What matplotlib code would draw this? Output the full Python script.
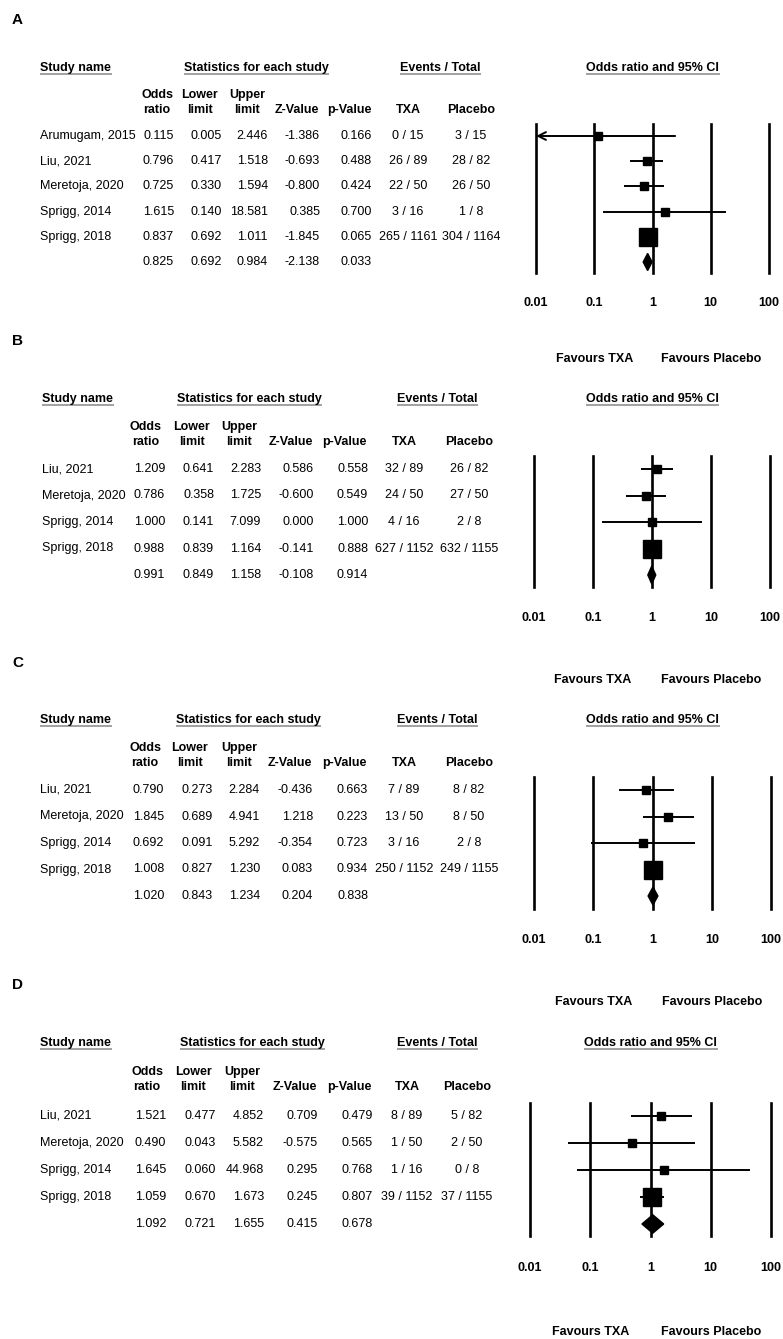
import numpy as np
import matplotlib
matplotlib.use('Agg')
import matplotlib.pyplot as plt
import matplotlib.transforms as mtransforms

plt.rcParams['font.family'] = ['Liberation Sans', 'DejaVu Sans']

W, H = 783, 1339

# ---- data: panel A
a_names = ['Arumugam, 2015', 'Liu, 2021', 'Meretoja, 2020', 'Sprigg, 2014', 'Sprigg, 2018']
a_or = [0.115, 0.796, 0.725, 1.615, 0.837]
a_lo = [0.005, 0.417, 0.330, 0.140, 0.692]
a_up = [2.446, 1.518, 1.594, 18.581, 1.011]
a_z = [-1.386, -0.693, -0.800, 0.385, -1.845]
a_p = [0.166, 0.488, 0.424, 0.700, 0.065]
a_txa_ev = [0, 26, 22, 3, 265]
a_txa_n = [15, 89, 50, 16, 1161]
a_pla_ev = [3, 28, 26, 1, 304]
a_pla_n = [15, 82, 50, 8, 1164]
a_pooled = [0.825, 0.692, 0.984, -2.138, 0.033]  # or, lower, upper, z, p

# ---- data: panel B
b_names = ['Liu, 2021', 'Meretoja, 2020', 'Sprigg, 2014', 'Sprigg, 2018']
b_or = [1.209, 0.786, 1.000, 0.988]
b_lo = [0.641, 0.358, 0.141, 0.839]
b_up = [2.283, 1.725, 7.099, 1.164]
b_z = [0.586, -0.600, 0.000, -0.141]
b_p = [0.558, 0.549, 1.000, 0.888]
b_txa_ev = [32, 24, 4, 627]
b_txa_n = [89, 50, 16, 1152]
b_pla_ev = [26, 27, 2, 632]
b_pla_n = [82, 50, 8, 1155]
b_pooled = [0.991, 0.849, 1.158, -0.108, 0.914]

# ---- data: panel C
c_names = ['Liu, 2021', 'Meretoja, 2020', 'Sprigg, 2014', 'Sprigg, 2018']
c_or = [0.790, 1.845, 0.692, 1.008]
c_lo = [0.273, 0.689, 0.091, 0.827]
c_up = [2.284, 4.941, 5.292, 1.230]
c_z = [-0.436, 1.218, -0.354, 0.083]
c_p = [0.663, 0.223, 0.723, 0.934]
c_txa_ev = [7, 13, 3, 250]
c_txa_n = [89, 50, 16, 1152]
c_pla_ev = [8, 8, 2, 249]
c_pla_n = [82, 50, 8, 1155]
c_pooled = [1.020, 0.843, 1.234, 0.204, 0.838]

# ---- data: panel D
d_names = ['Liu, 2021', 'Meretoja, 2020', 'Sprigg, 2014', 'Sprigg, 2018']
d_or = [1.521, 0.490, 1.645, 1.059]
d_lo = [0.477, 0.043, 0.060, 0.670]
d_up = [4.852, 5.582, 44.968, 1.673]
d_z = [0.709, -0.575, 0.295, 0.245]
d_p = [0.479, 0.565, 0.768, 0.807]
d_txa_ev = [8, 1, 1, 39]
d_txa_n = [89, 50, 16, 1152]
d_pla_ev = [5, 2, 0, 37]
d_pla_n = [82, 50, 8, 1155]
d_pooled = [1.092, 0.721, 1.655, 0.415, 0.678]

tick_vals = [0.01, 0.1, 1, 10, 100]
tick_labels = ['0.01', '0.1', '1', '10', '100']

# ---- layout (pixels)
cols_a = dict(name=40, or_r=174, lo_r=222, up_r=268, z_r=320, p_r=372, txa=408, pla=471,
              h_or=157, h_lo=200, h_up=247, h_z=297, h_p=349, stat=256, events=440)
cols_b = dict(name=42, or_r=165, lo_r=214, up_r=261, z_r=314, p_r=368, txa=404, pla=469,
              h_or=146, h_lo=192, h_up=239, h_z=291, h_p=344, stat=249, events=437)
cols_c = dict(name=40, or_r=164, lo_r=213, up_r=260, z_r=313, p_r=368, txa=404, pla=469,
              h_or=145, h_lo=190, h_up=239, h_z=290, h_p=344, stat=248, events=437)
cols_d = dict(name=40, or_r=166, lo_r=216, up_r=264, z_r=318, p_r=373, txa=407, pla=467,
              h_or=147, h_lo=193, h_up=242, h_z=295, h_p=349, stat=252, events=437)

panels = [
    dict(label='A', names=a_names, orr=a_or, lo=a_lo, up=a_up, z=a_z, p=a_p,
         te=a_txa_ev, tn=a_txa_n, pe=a_pla_ev, pn=a_pla_n, pooled=a_pooled,
         label_y=20, head_y=68, sub_y=(95, 110), row0=136, step=25.2,
         top=124, bot=273, tick_y=303, fav_y=359, fx0=536, fx1=769, cols=cols_a),
    dict(label='B', names=b_names, orr=b_or, lo=b_lo, up=b_up, z=b_z, p=b_p,
         te=b_txa_ev, tn=b_txa_n, pe=b_pla_ev, pn=b_pla_n, pooled=b_pooled,
         label_y=341, head_y=399, sub_y=(427, 442), row0=469, step=26.5,
         top=456, bot=587, tick_y=618, fav_y=680, fx0=534, fx1=770, cols=cols_b),
    dict(label='C', names=c_names, orr=c_or, lo=c_lo, up=c_up, z=c_z, p=c_p,
         te=c_txa_ev, tn=c_txa_n, pe=c_pla_ev, pn=c_pla_n, pooled=c_pooled,
         label_y=663, head_y=720, sub_y=(748, 763), row0=790, step=26.5,
         top=777, bot=909, tick_y=940, fav_y=1002, fx0=534, fx1=771, cols=cols_c),
    dict(label='D', names=d_names, orr=d_or, lo=d_lo, up=d_up, z=d_z, p=d_p,
         te=d_txa_ev, tn=d_txa_n, pe=d_pla_ev, pn=d_pla_n, pooled=d_pooled,
         label_y=985, head_y=1043, sub_y=(1072, 1087), row0=1116, step=27,
         top=1103, bot=1236, tick_y=1268, fav_y=1332, fx0=530, fx1=771, cols=cols_d),
]

fig = plt.figure(figsize=(W / 100, H / 100), dpi=100)
fig.patch.set_facecolor('white')
bg = fig.add_axes([0, 0, 1, 1])
bg.set_xlim(0, W)
bg.set_ylim(H, 0)
bg.axis('off')

FS = 9
headers = []

for pn in panels:
    c = pn['cols']
    bg.text(12, pn['label_y'], pn['label'], fontsize=11, fontweight='bold', ha='left', va='center')

    # header row
    headers.append(bg.text(c['name'], pn['head_y'], 'Study name', fontsize=FS, fontweight='bold',
                           ha='left', va='center'))
    headers.append(bg.text(c['stat'], pn['head_y'], 'Statistics for each study', fontsize=FS,
                           fontweight='bold', ha='center', va='center'))
    headers.append(bg.text(c['events'], pn['head_y'], 'Events / Total', fontsize=FS,
                           fontweight='bold', ha='center', va='center'))

    s1, s2 = pn['sub_y']
    for key, top_txt, bot_txt in [('h_or', 'Odds', 'ratio'), ('h_lo', 'Lower', 'limit'),
                                  ('h_up', 'Upper', 'limit')]:
        bg.text(c[key], s1, top_txt, fontsize=FS, fontweight='bold', ha='center', va='center')
        bg.text(c[key], s2, bot_txt, fontsize=FS, fontweight='bold', ha='center', va='center')
    bg.text(c['h_z'], s2, 'Z-Value', fontsize=FS, fontweight='bold', ha='center', va='center')
    bg.text(c['h_p'], s2, 'p-Value', fontsize=FS, fontweight='bold', ha='center', va='center')
    bg.text(c['txa'], s2, 'TXA', fontsize=FS, fontweight='bold', ha='center', va='center')
    bg.text(c['pla'], s2, 'Placebo', fontsize=FS, fontweight='bold', ha='center', va='center')

    # study rows
    n = len(pn['names'])
    for i in range(n):
        y = pn['row0'] + pn['step'] * i
        bg.text(c['name'], y, pn['names'][i], fontsize=FS, ha='left', va='center')
        for key, val in [('or_r', pn['orr'][i]), ('lo_r', pn['lo'][i]), ('up_r', pn['up'][i]),
                         ('z_r', pn['z'][i]), ('p_r', pn['p'][i])]:
            bg.text(c[key], y, f'{val:.3f}', fontsize=FS, ha='right', va='center')
        bg.text(c['txa'], y, f"{pn['te'][i]} / {pn['tn'][i]}", fontsize=FS, ha='center', va='center')
        bg.text(c['pla'], y, f"{pn['pe'][i]} / {pn['pn'][i]}", fontsize=FS, ha='center', va='center')
    y = pn['row0'] + pn['step'] * n
    for key, val in zip(['or_r', 'lo_r', 'up_r', 'z_r', 'p_r'], pn['pooled']):
        bg.text(c[key], y, f'{val:.3f}', fontsize=FS, ha='right', va='center')

    # forest plot axes
    ax = fig.add_axes([pn['fx0'] / W, 1 - pn['bot'] / H,
                       (pn['fx1'] - pn['fx0']) / W, (pn['bot'] - pn['top']) / H])
    ax.set_xscale('log')
    ax.set_xlim(0.01, 100)
    ax.set_ylim((pn['bot'] - pn['row0']) / pn['step'], (pn['top'] - pn['row0']) / pn['step'])
    ax.axis('off')
    for v in tick_vals:
        ax.axvline(v, color='black', lw=1.9, clip_on=False, zorder=1)

    orr = np.array(pn['orr'])
    lo = np.array(pn['lo'])
    up = np.array(pn['up'])
    se = (np.log(up) - np.log(lo)) / (2 * 1.96)
    w = 1 / se ** 2
    side = np.clip(18 * np.sqrt(w / w.max()), 7.5, 18)
    for i in range(n):
        if lo[i] < 0.01:
            ax.annotate('', xy=(0.01, i), xytext=(up[i], i),
                        arrowprops=dict(arrowstyle='->', color='black', lw=1.4,
                                        mutation_scale=14, shrinkA=0, shrinkB=0), zorder=2)
        else:
            ax.hlines(i, lo[i], up[i], color='black', lw=1.4, zorder=2)
        ax.plot(orr[i], i, marker='s', ms=side[i] * 0.72, color='black', zorder=3, clip_on=False)

    por, plo, pup = pn['pooled'][:3]
    hh = 0.34
    ax.fill([plo, por, pup, por], [n, n - hh, n, n + hh], color='black', zorder=3)

    blend = mtransforms.blended_transform_factory(ax.transData, bg.transData)
    for v, lab in zip(tick_vals, tick_labels):
        bg.text(v, pn['tick_y'], lab, transform=blend, fontsize=FS, fontweight='bold',
                ha='center', va='center')
    bg.text(0.1, pn['fav_y'], 'Favours TXA', transform=blend, fontsize=FS, fontweight='bold',
            ha='center', va='center')
    bg.text(10, pn['fav_y'], 'Favours Placebo', transform=blend, fontsize=FS, fontweight='bold',
            ha='center', va='center')
    headers.append(bg.text(1, pn['head_y'], 'Odds ratio and 95% CI', transform=blend, fontsize=FS,
                           fontweight='bold', ha='center', va='center'))

# grey underlines below the header titles
fig.canvas.draw()
renderer = fig.canvas.get_renderer()
for t in headers:
    bb = t.get_window_extent(renderer)
    yy = H - bb.y0 - 0.5
    bg.plot([bb.x0, bb.x1 + 1], [yy, yy], color='#9a9a9a', lw=1.3, solid_capstyle='butt')

fig.savefig('out.png', dpi=100, facecolor='white')
